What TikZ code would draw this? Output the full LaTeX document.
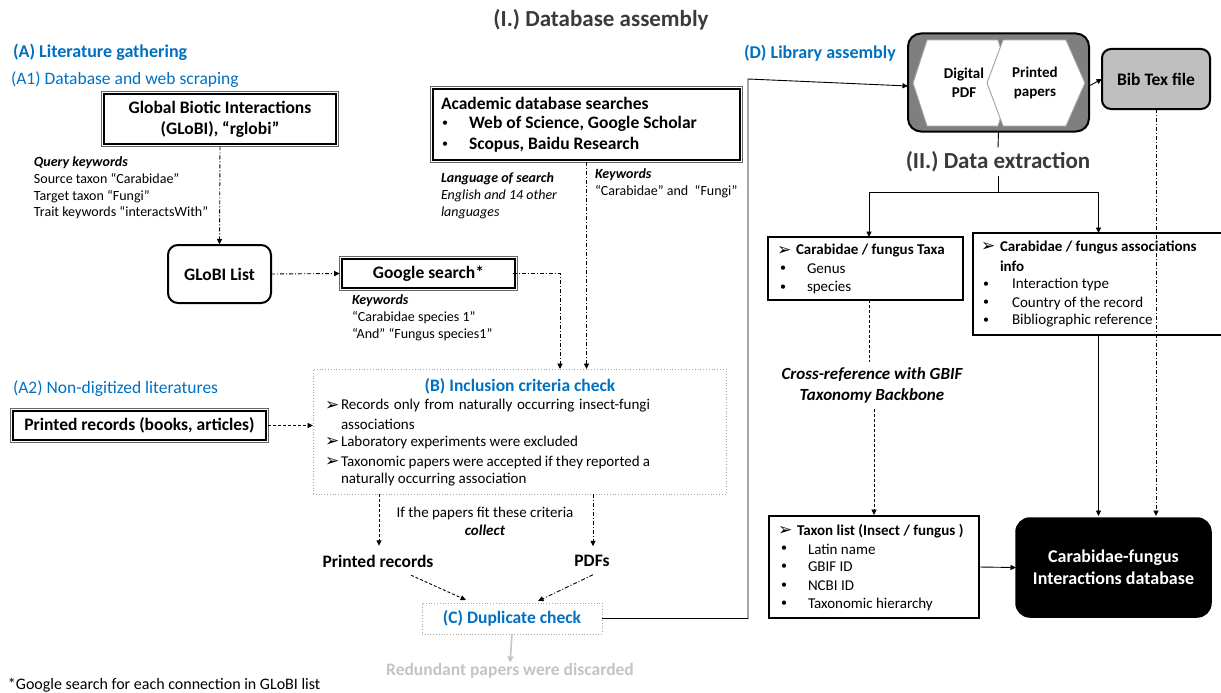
\documentclass[tikz,border=0pt]{standalone}
\usepackage{fontspec}
\setmainfont{Carlito}
\newfontfamily\symfont{DejaVu Sans}
\usetikzlibrary{arrows.meta,calc}
\definecolor{hblue}{HTML}{0070C0}
\definecolor{tgray}{HTML}{3A3A3A}
\definecolor{lgray}{HTML}{C4C4C4}
\definecolor{mgray}{HTML}{7F7F7F}
\definecolor{bgray}{HTML}{BFBFBF}
\newcommand{\fsz}[2]{\fontsize{#1pt}{#2pt}\selectfont}
\newcommand{\harr}{{\symfont\fontsize{17pt}{17pt}\selectfont ➢}}
\newcommand{\bul}{{\mdseries\fontsize{12pt}{14pt}\selectfont •}}
\tikzset{
  tip/.style={-{Triangle[length=5.5pt,width=5pt]}},
  conn/.style={line width=0.9pt},
  dashdot/.style={line width=0.9pt, dash pattern=on 4pt off 2pt on 1pt off 2pt},
  dashd/.style={line width=0.9pt, dash pattern=on 3pt off 2pt},
  box/.style={draw, line width=1.3pt},
  frame/.style={draw=black!60, line width=0.8pt},
  dotbox/.style={draw=gray!70, dotted, line width=0.8pt},
  bigbold/.style={font=\fsz{17.5}{21}\bfseries},
  body/.style={font=\fsz{14}{16.8}, align=left},
  item/.style={font=\fsz{15}{18}, anchor=west},
  head/.style={font=\fsz{23}{27}\bfseries, text=tgray},
  hex/.style={draw=gray!75, fill=white, line width=0.9pt}
}
\begin{document}
\begin{tikzpicture}[x=1pt,y=-1pt, every node/.style={inner sep=0pt, outer sep=0pt}]
\useasboundingbox (0,0) rectangle (1221,693);

% ---------- titles
\node[head] (title) at (601,20) {(I.) Database assembly};
\node[anchor=west, font=\fsz{18}{21}\bfseries, text=hblue] (hA) at (13,52) {(A) Literature gathering};
\node[anchor=west, font=\fsz{17.5}{21}, text=hblue] (hA1) at (11,80) {(A1) Database and web scraping};
\node[anchor=west, font=\fsz{17.5}{21}, text=hblue] (hA2) at (13,389) {(A2) Non-digitized literatures};
\node[anchor=west, font=\fsz{18}{21}\bfseries, text=hblue] (hD) at (744,53) {(D) Library assembly};

% ---------- double framed boxes
\node[box, minimum width=232, minimum height=50, align=center, font=\fsz{17.5}{21}\bfseries] (globi) at (220,119) {Global Biotic Interactions\\(GLoBI), “rglobi”};
\node[box, minimum width=173, minimum height=29, bigbold] (google) at (428.5,273.5) {Google search*};
\node[box, minimum width=253, minimum height=29, bigbold] (printed) at (139.5,425.5) {Printed records (books, articles)};
\node[box, minimum width=307, minimum height=71] (acad) at (586.5,124.5) {};
\foreach \n in {globi,google,printed,acad}
  \draw[frame] ([shift={(-2.3,-2.3)}]\n.north west) rectangle ([shift={(2.3,2.3)}]\n.south east);

\node[anchor=west, bigbold] (acadt) at (441,103) {Academic database searches};
\node[anchor=west, bigbold] (acadb1) at (442,124) {\bul};
\node[anchor=west, bigbold] (acad1) at (469,124) {Web of Science, Google Scholar};
\node[anchor=west, bigbold] (acadb2) at (442,145) {\bul};
\node[anchor=west, bigbold] (acad2) at (469,145) {Scopus, Baidu Research};

% ---------- annotations
\node[anchor=west, body] (query) at (34,188) {\textbf{\textit{Query keywords}}\\Source taxon “Carabidae”\\Target taxon “Fungi”\\Trait keywords “interactsWith”};
\node[anchor=west, body, font=\fsz{14}{16.8}\itshape] (lang) at (441,196) {\textbf{Language of search}\\English and 14 other\\languages};
\node[anchor=west, body] (kw1) at (595,183.5) {\textbf{\textit{Keywords}}\\“Carabidae” and~ “Fungi”};
\node[anchor=west, body] (kw2) at (352,318) {\textbf{\textit{Keywords}}\\“Carabidae species 1”\\“And” “Fungus species1”};

% ---------- GLoBI list
\node[draw, line width=2pt, rounded corners=10pt, minimum width=103, minimum height=58, bigbold] (glist) at (219.5,274) {GLoBI List};

% ---------- inclusion criteria
\node[dotbox, minimum width=413, minimum height=125] (incl) at (519.5,431.5) {};
\node[font=\fsz{17.5}{21}\bfseries, text=hblue] (inclt) at (520,386) {(B) Inclusion criteria check};
\node[item] (ib1) at (325,406) {\harr};
\node[item] (i1) at (341,406) {\makebox[309pt][s]{Records only from naturally occurring insect-fungi}};
\node[item] (i1b) at (341,424) {associations};
\node[item] (ib2) at (325,442) {\harr};
\node[item] (i2) at (341,442) {Laboratory experiments were excluded};
\node[item] (ib3) at (325,462) {\harr};
\node[item] (i3) at (341,462) {\makebox[309pt][s]{Taxonomic papers were accepted if they reported a}};
\node[item] (i3b) at (341,480) {naturally occurring association};

% ---------- collect
\node[align=center, font=\fsz{15}{18}] (iff) at (485,521) {If the papers fit these criteria\\\textbf{\textit{collect}}};
\node[bigbold] (prec) at (378,561) {Printed records};
\node[bigbold] (pdfs) at (592,561) {PDFs};
\node[dotbox, minimum width=180, minimum height=31, font=\fsz{17.5}{21}\bfseries, text=hblue] (dup) at (512,618.5) {(C) Duplicate check};
\node[font=\fsz{17.5}{21}\bfseries, text=lgray] (redund) at (510,671) {Redundant papers were discarded};
\node[anchor=west, font=\fsz{16}{19}] (foot) at (8,685) {*Google search for each connection in GLoBI list};

% ---------- library
\node[draw, line width=2pt, fill=mgray, rounded corners=13pt, minimum width=181, minimum height=98] (lib) at (998.5,82.5) {};
\draw[hex] (913,83) -- (927,40) -- (998,40) -- (1012,83) -- (998,126) -- (927,126) -- cycle;
\draw[hex] (987,83) -- (1003,40) -- (1066,40) -- (1085,83) -- (1066,126) -- (1003,126) -- cycle;
\node[align=center, font=\fsz{15}{19}\bfseries] (dpdf) at (964,83) {Digital\\PDF};
\node[align=center, font=\fsz{15}{19}\bfseries] (ppap) at (1035,83) {Printed\\papers};
\node[draw, line width=2pt, fill=bgray, rounded corners=9pt, minimum width=108, minimum height=60, bigbold] (bib) at (1156,79) {Bib Tex file};

% ---------- data extraction
\node[head, inner ysep=4pt] (ext) at (998,162) {(II.) Data extraction};
\coordinate (split) at (998,192);

\node[box, minimum width=195, minimum height=63] (taxa) at (865.5,268.5) {};
\node[item] (tb) at (777,251) {\harr};
\node[item, font=\fsz{15}{18}\bfseries] (tt) at (796,251) {Carabidae / fungus Taxa};
\node[item] (tb1) at (780,269) {\bul};
\node[item] (t1) at (807,269) {Genus};
\node[item] (tb2) at (780,288) {\bul};
\node[item] (t2) at (807,288) {species};

\node[box, minimum width=251, minimum height=102] (assoc) at (1098.5,284) {};
\node[item] (ab) at (981,247) {\harr};
\node[item, font=\fsz{15}{18}\bfseries] (at1) at (1000,247) {Carabidae / fungus associations};
\node[item, font=\fsz{15}{18}\bfseries] (at2) at (1000,266) {info};
\node[item] (ab1) at (983,285) {\bul};
\node[item] (a1) at (1012,285) {Interaction type};
\node[item] (ab2) at (983,303) {\bul};
\node[item] (a2) at (1012,303) {Country of the record};
\node[item] (ab3) at (983,321) {\bul};
\node[item] (a3) at (1012,321) {Bibliographic reference};

\node[align=center, font=\fsz{17}{21}\bfseries\itshape, inner ysep=6pt] (cross) at (872,385.5) {Cross-reference with GBIF\\Taxonomy Backbone};

\node[box, minimum width=210, minimum height=102] (taxon) at (874,567) {};
\node[item] (xb) at (778,531) {\harr};
\node[item, font=\fsz{15}{18}\bfseries] (xt) at (797,531) {Taxon list (Insect / fungus )};
\node[item] (xb1) at (781,549) {\bul};
\node[item] (x1) at (808,549) {Latin name};
\node[item] (xb2) at (781,567) {\bul};
\node[item] (x2) at (808,567) {GBIF ID};
\node[item] (xb3) at (781,586) {\bul};
\node[item] (x3) at (808,586) {NCBI ID};
\node[item] (xb4) at (781,604) {\bul};
\node[item] (x4) at (808,604) {Taxonomic hierarchy};

\node[draw, fill=black, line width=1.5pt, rounded corners=14pt, minimum width=195, minimum height=99, text=white, align=center, font=\fsz{18}{22}\bfseries] (db) at (1113.5,567.5) {Carabidae-fungus\\Interactions database};

% ---------- connectors
\draw[dashdot, tip, shorten <=2.3pt, shorten >=0.5pt] (globi.south) -- (glist.north);
\draw[dashdot, tip, shorten >=2.3pt] (glist.east) -- (google.west);
\draw[dashdot, tip, shorten <=-2.3pt] (google.east) -| ([xshift=40.5]incl.north);
\draw[dashdot, tip, shorten <=2.3pt] (acad.south) -- (acad.south |- incl.north);
\draw[dashd, tip, shorten <=2.3pt] (printed.east) -- (printed.east -| incl.west);
\draw[dashd, tip, shorten >=9pt] ([xshift=1]prec.north |- incl.south) -- ([xshift=1]prec.north);
\draw[dashdot, tip, shorten >=9pt] ([xshift=1]pdfs.north |- incl.south) -- ([xshift=1]pdfs.north);
\draw[dashd, tip] ([shift={(33,8)}]prec.south) -- ([shift={(-46,-3)}]dup.north);
\draw[dashdot, tip] ([shift={(1,8)}]pdfs.south) -- ([shift={(26,-2)}]dup.north);
\draw[lgray, line width=1.6pt, -{Triangle[length=6pt,width=6pt]}, shorten >=1pt] (dup.south) -- (redund.north);
\draw[conn, tip] (dup.east) -| ([shift={(-160,-3.5)}]lib.west) -- ([yshift=-3.5]lib.west);
\draw[conn, tip] ([yshift=-3.5]lib.east) -- (bib.west);
\draw[dashdot, tip, shorten >=2pt] (bib.south) -- (bib.south |- db.north);
\draw[conn] (lib.south) -- (ext.north);
\draw[conn] (ext.south) -- (split);
\draw[conn, tip] (split) -| ([xshift=3.5]taxa.north);
\draw[conn, tip] (split) -| (assoc.north);
\draw[dashd] ([xshift=3.5]taxa.south) -- ([xshift=3.5]taxa.south |- cross.north);
\draw[dashd, tip, shorten >=1pt] (cross.south -| taxon.north) -- (taxon.north);
\draw[conn, tip, shorten >=2pt] (assoc.south) -- (assoc.south |- db.north);
\draw[conn, tip] (taxon.east) -- (db.west);
\end{tikzpicture}
\end{document}
